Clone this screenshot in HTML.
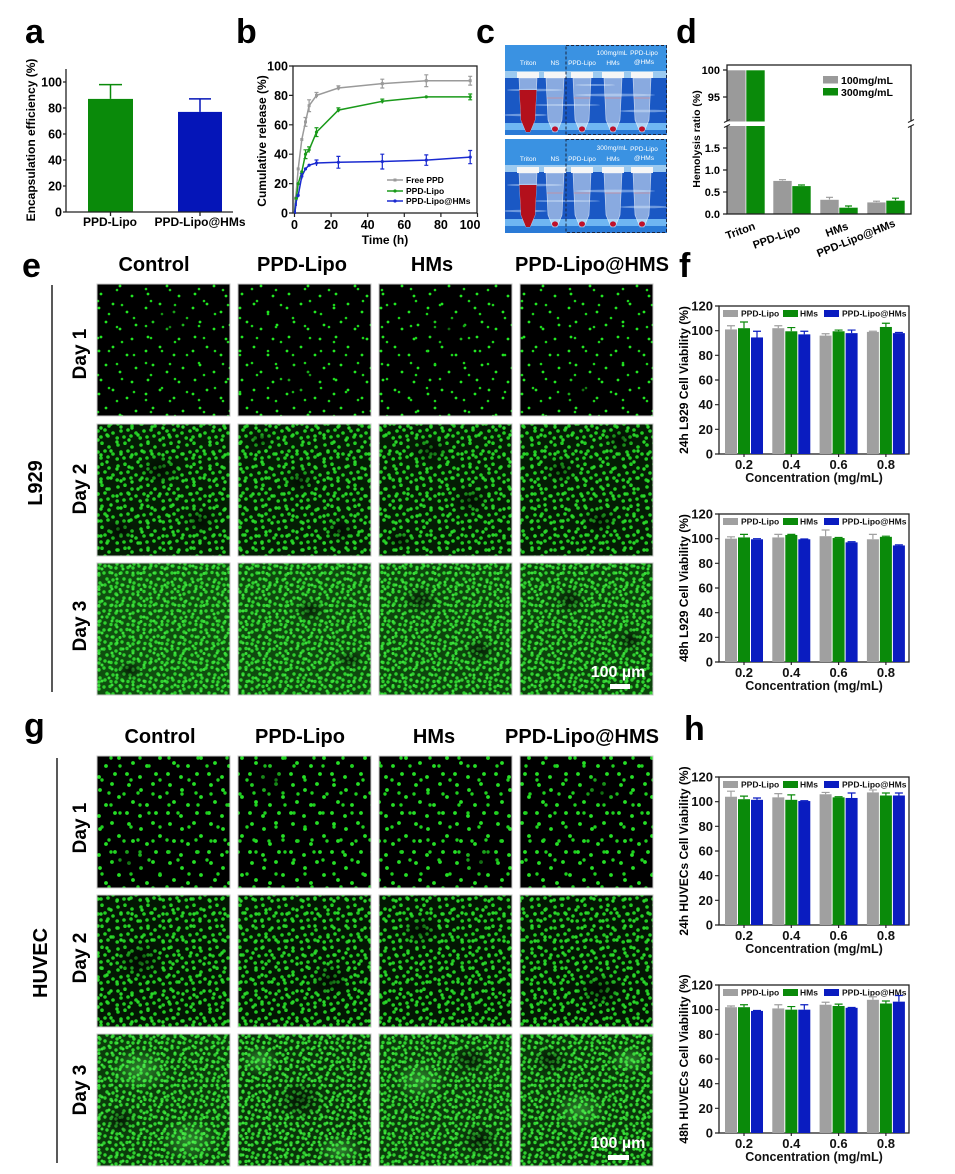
<!DOCTYPE html>
<html><head><meta charset="utf-8"><style>html,body{margin:0;padding:0;background:#fff}svg{display:block}</style></head>
<body>
<svg width="955" height="1174" viewBox="0 0 955 1174" xmlns="http://www.w3.org/2000/svg" xmlns:xlink="http://www.w3.org/1999/xlink" font-family="'Liberation Sans', Arial, sans-serif" font-weight="bold">
<defs>
<pattern id="pA1" width="47" height="43" patternUnits="userSpaceOnUse"><g fill="#22e622"><circle cx="5" cy="7" r="1.4"/><circle cx="19" cy="3" r="1.4"/><circle cx="33" cy="11" r="1.4"/><circle cx="42" cy="24" r="1.4"/><circle cx="12" cy="21" r="1.4"/><circle cx="26" cy="28" r="1.4"/><circle cx="7" cy="36" r="1.4"/><circle cx="38" cy="38" r="1.4"/></g></pattern>
<pattern id="pB1" width="53" height="37" patternUnits="userSpaceOnUse"><g fill="#1bd41b"><circle cx="3" cy="18" r="1.3"/><circle cx="16" cy="9" r="1.3"/><circle cx="28" cy="22" r="1.3"/><circle cx="45" cy="5" r="1.3"/><circle cx="40" cy="30" r="1.3"/><circle cx="11" cy="31" r="1.3"/></g></pattern>
<pattern id="pA2" width="23" height="21" patternUnits="userSpaceOnUse"><g fill="#22cc22"><circle cx="3" cy="4" r="1.8"/><circle cx="10" cy="2.2" r="1.8"/><circle cx="17" cy="6" r="1.8"/><circle cx="21" cy="13" r="1.8"/><circle cx="6" cy="11" r="1.8"/><circle cx="13" cy="10" r="1.8"/><circle cx="2.2" cy="18" r="1.8"/><circle cx="9" cy="17" r="1.8"/><circle cx="16" cy="16" r="1.8"/></g></pattern>
<pattern id="pB2" width="31" height="27" patternUnits="userSpaceOnUse"><g fill="#2bd82b"><circle cx="5" cy="8" r="1.7"/><circle cx="14" cy="3" r="1.7"/><circle cx="24" cy="10" r="1.7"/><circle cx="28" cy="22" r="1.7"/><circle cx="18" cy="19" r="1.7"/><circle cx="8" cy="23" r="1.7"/></g></pattern>
<pattern id="pA3" width="17" height="19" patternUnits="userSpaceOnUse"><g fill="#2fd02f"><circle cx="2" cy="3" r="1.7"/><circle cx="8" cy="2.5" r="1.7"/><circle cx="14" cy="5" r="1.7"/><circle cx="5" cy="9" r="1.7"/><circle cx="11" cy="10" r="1.7"/><circle cx="15" cy="13" r="1.7"/><circle cx="3" cy="15" r="1.7"/><circle cx="9" cy="16.5" r="1.7"/><circle cx="14" cy="17" r="1.7"/></g></pattern>
<pattern id="pB3" width="21" height="16" patternUnits="userSpaceOnUse"><g fill="#3be03b"><circle cx="4" cy="6" r="1.5"/><circle cx="12" cy="3" r="1.5"/><circle cx="18" cy="9" r="1.5"/><circle cx="7" cy="13" r="1.5"/><circle cx="15" cy="13.5" r="1.5"/></g></pattern>
<pattern id="pH1a" width="41" height="39" patternUnits="userSpaceOnUse"><g fill="#25e025"><circle cx="6" cy="5" r="1.9"/><circle cx="18" cy="10" r="1.9"/><circle cx="30" cy="4" r="1.9"/><circle cx="37" cy="17" r="1.9"/><circle cx="10" cy="22" r="1.9"/><circle cx="24" cy="25" r="1.9"/><circle cx="4" cy="33" r="1.9"/><circle cx="33" cy="33" r="1.9"/><circle cx="17" cy="36" r="1.9"/></g></pattern>
<pattern id="pH1b" width="29" height="47" patternUnits="userSpaceOnUse"><g fill="#1ed01e"><circle cx="4" cy="14" r="1.7"/><circle cx="15" cy="28" r="1.7"/><circle cx="24" cy="6" r="1.7"/><circle cx="22" cy="41" r="1.7"/><circle cx="8" cy="42" r="1.7"/></g></pattern>
<radialGradient id="dk"><stop offset="0" stop-color="#000" stop-opacity=".6"/><stop offset="1" stop-color="#000" stop-opacity="0"/></radialGradient>
<radialGradient id="br"><stop offset="0" stop-color="#66ff66" stop-opacity=".4"/><stop offset="1" stop-color="#66ff66" stop-opacity="0"/></radialGradient>

<g id="ax" fill="#111">
<rect x="719" y="-148" width="190" height="148" fill="none" stroke="#222" stroke-width="1.3"/>
<path d="M715,0H719M715,-24.67H719M715,-49.33H719M715,-74H719M715,-98.67H719M715,-123.33H719M715,-148H719M744,0V3M791.3,0V3M838.6,0V3M885.9,0V3" stroke="#222" stroke-width="1.2"/>
<g font-size="13" text-anchor="end"><text x="713" y="4.5">0</text><text x="713" y="-20.2">20</text><text x="713" y="-44.8">40</text><text x="713" y="-69.5">60</text><text x="713" y="-94.2">80</text><text x="713" y="-118.8">100</text><text x="713" y="-143.5">120</text></g>
<g font-size="13" text-anchor="middle"><text x="744" y="15">0.2</text><text x="791.3" y="15">0.4</text><text x="838.6" y="15">0.6</text><text x="885.9" y="15">0.8</text></g>
<text x="814" y="28" font-size="12.5" text-anchor="middle">Concentration (mg/mL)</text>
<rect x="723" y="-144" width="15" height="7" fill="#a0a0a0"/><text x="741" y="-137.5" font-size="8.5">PPD-Lipo</text>
<rect x="783" y="-144" width="15" height="7" fill="#0a8a0a"/><text x="800" y="-137.5" font-size="8.5">HMs</text>
<rect x="824" y="-144" width="15" height="7" fill="#0a1cc0"/><text x="842" y="-137.5" font-size="8.5">PPD-Lipo@HMs</text>
</g>

<g id="tube">
<path d="M-9,0 L9,0 L7,42 L2,54 L-2,54 L-7,42 Z" fill="#e6eef8" fill-opacity=".55" stroke="#fff" stroke-opacity=".7" stroke-width=".6"/>
<rect x="-11" y="-6" width="22" height="6" fill="#f6f6f6"/>
<path d="M-8,20H8" stroke="#e08080" stroke-width=".6"/>
<ellipse cx="0" cy="51" rx="3" ry="2.6" fill="#c0102a"/>
</g>
<path id="redfill" d="M-8.5,12 L8.5,12 L7,42 L2,54 L-2,54 L-7,42 Z" fill="#b3101c"/>
</defs>

<!-- panel letters -->
<g font-size="34" fill="#000">
<text x="25" y="43">a</text><text x="236" y="43">b</text><text x="476" y="43">c</text><text x="676" y="43">d</text>
<text x="22" y="277">e</text><text x="679" y="277">f</text><text x="24" y="737">g</text><text x="684" y="740">h</text>
</g>

<!-- panel a -->
<rect x="88" y="98.9" width="45" height="113.1" fill="#0a8a0a"/>
<rect x="178" y="111.9" width="44" height="100.1" fill="#0515b8"/>
<path d="M110.5,98.9V84.6M99,84.6H122" stroke="#0a8a0a" stroke-width="1.5" fill="none"/>
<path d="M200,111.9V98.9M189,98.9H211" stroke="#0515b8" stroke-width="1.5" fill="none"/>
<path d="M66,69V212H233M63,212H66M63,186H66M63,160H66M63,134H66M63,108H66M63,82H66M110.5,212V216M200,212V216" stroke="#222" stroke-width="1.3" fill="none"/>
<g font-size="12.5" text-anchor="end"><text x="62" y="216.5">0</text><text x="62" y="190.5">20</text><text x="62" y="164.5">40</text><text x="62" y="138.5">60</text><text x="62" y="112.5">80</text><text x="62" y="86.5">100</text></g>
<g font-size="12" text-anchor="middle"><text x="110" y="226">PPD-Lipo</text><text x="200" y="226">PPD-Lipo@HMs</text></g>
<text transform="translate(35,140) rotate(-90)" font-size="12" text-anchor="middle">Encapsulation efficiency (%)</text>

<!-- panel b -->
<rect x="293" y="66" width="184" height="147" fill="none" stroke="#222" stroke-width="1.3"/>
<path d="M289,213H293M289,183.6H293M289,154.2H293M289,124.8H293M289,95.4H293M289,66H293M294.5,213V217M331.1,213V217M367.7,213V217M404.3,213V217M440.9,213V217M477.5,213V217" stroke="#222" stroke-width="1.2"/>
<g font-size="12.5" text-anchor="end"><text x="288" y="217.5">0</text><text x="288" y="188">20</text><text x="288" y="158.7">40</text><text x="288" y="129.3">60</text><text x="288" y="99.9">80</text><text x="288" y="70.5">100</text></g>
<g font-size="12.5" text-anchor="middle"><text x="294.5" y="229">0</text><text x="331.1" y="229">20</text><text x="367.7" y="229">40</text><text x="404.3" y="229">60</text><text x="440.9" y="229">80</text><text x="470" y="229">100</text></g>
<text x="385" y="244" font-size="12" text-anchor="middle">Time (h)</text>
<text transform="translate(266,141) rotate(-90)" font-size="12" text-anchor="middle">Cumulative release (%)</text>
<polyline fill="none" stroke="#9a9a9a" stroke-width="1.5" points="294.5,213 295.4,198.3 296.3,191 298.2,168.9 301.8,139.5 305.5,121.9 309.1,105.7 316.5,95.4 338.4,88.05 382.3,83.6 426.3,80.7 470.2,80.7"/>
<polyline fill="none" stroke="#1a9a1a" stroke-width="1.5" points="294.5,213 295.4,205.65 296.3,198.3 298.2,183.6 301.8,171.8 305.5,154.2 309.1,149.8 316.5,132.15 338.4,110.1 382.3,101.3 426.3,96.9 470.2,96.9"/>
<polyline fill="none" stroke="#1a2ad0" stroke-width="1.5" points="294.5,213 295.4,208.6 296.3,201.2 298.2,195.4 301.8,176.25 305.5,168.9 309.1,165.2 316.5,163 338.4,162.3 382.3,161.55 426.3,160.1 470.2,157.1"/>
<path fill="none" stroke="#9a9a9a" stroke-width="1.2" d="M305.5,117.5V126.3M303.5,117.5H307.5M303.5,126.3H307.5M309.1,99.8V111.6M307.1,99.8H311.1M307.1,111.6H311.1M316.5,92.5V98.3M314.5,92.5H318.5M338.4,85.8V90.3M336.4,85.8H340.4M382.3,79.2V88M380.3,79.2H384.3M380.3,88H384.3M426.3,74.8V86.6M424.3,74.8H428.3M424.3,86.6H428.3M470.2,76.3V85.1M468.2,76.3H472.2M468.2,85.1H472.2"/>
<path fill="none" stroke="#1a9a1a" stroke-width="1.2" d="M305.5,149.8V158.6M303.5,149.8H307.5M303.5,158.6H307.5M309.1,146.9V152.7M307.1,146.9H311.1M316.5,127.75V136.55M314.5,127.75H318.5M314.5,136.55H318.5M338.4,107.9V112.3M336.4,107.9H340.4M382.3,99.1V103.5M380.3,99.1H384.3M470.2,94V99.8M468.2,94H472.2M468.2,99.8H472.2"/>
<path fill="none" stroke="#1a2ad0" stroke-width="1.2" d="M295.4,203V214M296.3,196V206M301.8,173.3V179.3M299.8,173.3H303.8M316.5,160V166M314.5,160H318.5M338.4,156.4V168.2M336.4,156.4H340.4M336.4,168.2H340.4M382.3,154.2V169M380.3,154.2H384.3M380.3,169H384.3M426.3,154.9V165.3M424.3,154.9H428.3M424.3,165.3H428.3M470.2,150.5V163.7M468.2,150.5H472.2M468.2,163.7H472.2"/>
<g fill="#9a9a9a"><rect x="294" y="196.8" width="3" height="3"/><rect x="296.7" y="167.4" width="3" height="3"/><rect x="300.3" y="138" width="3" height="3"/><rect x="304" y="120.4" width="3" height="3"/><rect x="307.6" y="104.2" width="3" height="3"/><rect x="315" y="93.9" width="3" height="3"/><rect x="336.9" y="86.5" width="3" height="3"/><rect x="380.8" y="82.1" width="3" height="3"/><rect x="424.8" y="79.2" width="3" height="3"/><rect x="468.7" y="79.2" width="3" height="3"/></g>
<g fill="#1a9a1a"><circle cx="296.3" cy="198.3" r="1.6"/><circle cx="298.2" cy="183.6" r="1.6"/><circle cx="301.8" cy="171.8" r="1.6"/><circle cx="305.5" cy="154.2" r="1.6"/><circle cx="309.1" cy="149.8" r="1.6"/><circle cx="316.5" cy="132.15" r="1.6"/><circle cx="338.4" cy="110.1" r="1.6"/><circle cx="382.3" cy="101.3" r="1.6"/><circle cx="426.3" cy="96.9" r="1.6"/><circle cx="470.2" cy="96.9" r="1.6"/></g>
<g fill="#1a2ad0"><circle cx="298.2" cy="195.4" r="1.6"/><circle cx="301.8" cy="176.25" r="1.6"/><circle cx="305.5" cy="168.9" r="1.6"/><circle cx="309.1" cy="165.2" r="1.6"/><circle cx="316.5" cy="163" r="1.6"/><circle cx="338.4" cy="162.3" r="1.6"/><circle cx="382.3" cy="161.55" r="1.6"/><circle cx="426.3" cy="160.1" r="1.6"/><circle cx="470.2" cy="157.1" r="1.6"/></g>
<path d="M387,180H403" stroke="#9a9a9a" stroke-width="1.5"/><rect x="393.5" y="178.5" width="3" height="3" fill="#9a9a9a"/>
<path d="M387,191H403" stroke="#1a9a1a" stroke-width="1.5"/><circle cx="395" cy="191" r="1.6" fill="#1a9a1a"/>
<path d="M387,201H403" stroke="#1a2ad0" stroke-width="1.5"/><circle cx="395" cy="201" r="1.6" fill="#1a2ad0"/>
<g font-size="8.5"><text x="406" y="183">Free PPD</text><text x="406" y="194">PPD-Lipo</text><text x="406" y="204">PPD-Lipo@HMs</text></g>

<!-- panel c photos -->
<g transform="translate(505,45)">
<rect width="162" height="90" fill="#2f86da"/>
<rect width="162" height="27" fill="#3a92e2"/>
<rect y="26" width="162" height="7" fill="#9ccaf0"/>
<rect y="33" width="162" height="45" fill="#1a58c4"/>
<g fill="#cfe6ff" opacity=".45"><ellipse cx="30" cy="45" rx="28" ry="1.2"/><ellipse cx="110" cy="50" rx="40" ry="1.4"/><ellipse cx="60" cy="60" rx="35" ry="1"/><ellipse cx="140" cy="66" rx="25" ry="1.3"/><ellipse cx="20" cy="70" rx="22" ry="1.2"/><ellipse cx="90" cy="40" rx="20" ry="1"/></g>
<rect y="78" width="162" height="7" fill="#6fb6f2"/>
<rect y="85" width="162" height="5" fill="#2a7ad6"/>
<use xlink:href="#tube" href="#tube" x="23" y="33"/>
<use xlink:href="#redfill" href="#redfill" x="23" y="33"/>
<use xlink:href="#tube" href="#tube" x="50" y="33"/>
<use xlink:href="#tube" href="#tube" x="77" y="33"/>
<use xlink:href="#tube" href="#tube" x="108" y="33"/>
<use xlink:href="#tube" href="#tube" x="137" y="33"/>
<rect x="61" y="0.5" width="100.5" height="89" fill="none" stroke="#1a2540" stroke-width="1" stroke-dasharray="3 2"/>
<g fill="#fff" font-weight="normal" font-size="6.5" text-anchor="middle"><text x="23" y="20">Triton</text><text x="50" y="20">NS</text><text x="77" y="20">PPD-Lipo</text><text x="108" y="20">HMs</text><text x="107" y="10">100mg/mL</text><text x="139" y="10">PPD-Lipo</text><text x="139" y="19">@HMs</text></g>
</g>
<g transform="translate(505,139)">
<rect width="162" height="94" fill="#2f86da"/>
<rect width="162" height="27" fill="#3a92e2"/>
<rect y="26" width="162" height="7" fill="#9ccaf0"/>
<rect y="33" width="162" height="47" fill="#1a58c4"/>
<g fill="#cfe6ff" opacity=".45"><ellipse cx="30" cy="46" rx="28" ry="1.2"/><ellipse cx="110" cy="52" rx="40" ry="1.4"/><ellipse cx="60" cy="62" rx="35" ry="1"/><ellipse cx="140" cy="68" rx="25" ry="1.3"/><ellipse cx="20" cy="72" rx="22" ry="1.2"/></g>
<rect y="80" width="162" height="7" fill="#6fb6f2"/>
<rect y="87" width="162" height="7" fill="#2a7ad6"/>
<use xlink:href="#tube" href="#tube" x="23" y="34"/>
<use xlink:href="#redfill" href="#redfill" x="23" y="34"/>
<use xlink:href="#tube" href="#tube" x="50" y="34"/>
<use xlink:href="#tube" href="#tube" x="77" y="34"/>
<use xlink:href="#tube" href="#tube" x="108" y="34"/>
<use xlink:href="#tube" href="#tube" x="137" y="34"/>
<rect x="61" y="0.5" width="100.5" height="93" fill="none" stroke="#1a2540" stroke-width="1" stroke-dasharray="3 2"/>
<g fill="#fff" font-weight="normal" font-size="6.5" text-anchor="middle"><text x="23" y="22">Triton</text><text x="50" y="22">NS</text><text x="77" y="22">PPD-Lipo</text><text x="108" y="22">HMs</text><text x="107" y="11">300mg/mL</text><text x="139" y="12">PPD-Lipo</text><text x="139" y="21">@HMs</text></g>
</g>

<!-- panel d -->
<g stroke="#fff" stroke-width=".6">
<rect x="727" y="70" width="19" height="144" fill="#9a9a9a"/>
<rect x="746" y="70" width="19" height="144" fill="#0a8a0a"/>
<rect x="773" y="180.6" width="19" height="33.4" fill="#9a9a9a"/>
<rect x="792" y="185.8" width="19" height="28.2" fill="#0a8a0a"/>
<rect x="820" y="199.5" width="19" height="14.5" fill="#9a9a9a"/>
<rect x="839" y="207.4" width="19" height="6.6" fill="#0a8a0a"/>
<rect x="867" y="202.1" width="19" height="11.9" fill="#9a9a9a"/>
<rect x="886" y="200.4" width="19" height="13.6" fill="#0a8a0a"/>
</g>
<path d="M782.5,180.6V179.7M779,179.7H786M876.5,202.1V201.2M873,201.2H880M829.5,199.5V197.3M826,197.3H833" stroke="#9a9a9a" stroke-width="1.2"/>
<path d="M801.5,185.8V185M798,185H805M848.5,207.4V206M845,206H852M895.5,200.4V198.2M892,198.2H899" stroke="#0a8a0a" stroke-width="1.2"/>
<rect x="727" y="65" width="184" height="149" fill="none" stroke="#222" stroke-width="1.3"/>
<path d="M723,70H727M723,97H727M723,148H727M723,170H727M723,192H727M723,214H727" stroke="#222" stroke-width="1.2"/>
<rect x="720" y="121.5" width="196" height="4.5" fill="#fff"/>
<path d="M724,122.5L730,119.5M724,127.5L730,124.5M908,122.5L914,119.5M908,127.5L914,124.5" stroke="#222" stroke-width="1"/>
<g font-size="11" text-anchor="end"><text x="720" y="74">100</text><text x="720" y="101">95</text><text x="720" y="152">1.5</text><text x="720" y="174">1.0</text><text x="720" y="196">0.5</text><text x="720" y="218">0.0</text></g>
<rect x="823" y="76" width="15" height="7.5" fill="#9a9a9a"/><rect x="823" y="88" width="15" height="7.5" fill="#0a8a0a"/>
<g font-size="10.5"><text x="841" y="84">100mg/mL</text><text x="841" y="96">300mg/mL</text></g>
<text transform="translate(700,139) rotate(-90)" font-size="10.5" text-anchor="middle">Hemolysis ratio (%)</text>
<g font-size="11" text-anchor="end">
<text transform="translate(756,229) rotate(-20)">Triton</text>
<text transform="translate(801,232) rotate(-20)">PPD-Lipo</text>
<text transform="translate(849,229) rotate(-20)">HMs</text>
<text transform="translate(896,226) rotate(-22)">PPD-Lipo@HMs</text>
</g>

<!-- e headers -->
<g font-size="20" text-anchor="middle"><text x="154" y="271">Control</text><text x="302" y="271">PPD-Lipo</text><text x="432" y="271">HMs</text><text x="592" y="271">PPD-Lipo@HMS</text></g>
<path d="M52,285V692" stroke="#222" stroke-width="1.5"/>
<text transform="translate(42,483) rotate(-90)" font-size="20" text-anchor="middle">L929</text>
<g font-size="19" text-anchor="middle"><text transform="translate(86,354) rotate(-90)">Day 1</text><text transform="translate(86,489) rotate(-90)">Day 2</text><text transform="translate(86,626) rotate(-90)">Day 3</text></g>

<!-- e tiles row 1 -->
<g>
<rect x="97" y="284" width="133" height="132" fill="#000"/><rect x="97" y="284" width="133" height="132" fill="url(#pA1)"/><rect x="97" y="284" width="133" height="132" fill="url(#pB1)"/>
<rect x="238" y="284" width="133" height="132" fill="#000"/><rect x="238" y="284" width="133" height="132" fill="url(#pA1)"/><rect x="238" y="284" width="133" height="132" fill="url(#pB1)"/>
<rect x="379" y="284" width="133" height="132" fill="#000"/><rect x="379" y="284" width="133" height="132" fill="url(#pA1)"/><rect x="379" y="284" width="133" height="132" fill="url(#pB1)"/>
<rect x="520" y="284" width="133" height="132" fill="#000"/><rect x="520" y="284" width="133" height="132" fill="url(#pA1)"/><rect x="520" y="284" width="133" height="132" fill="url(#pB1)"/>
<ellipse cx="170" cy="320" rx="22" ry="18" fill="url(#dk)"/><ellipse cx="300" cy="380" rx="22" ry="18" fill="url(#dk)"/><ellipse cx="450" cy="330" rx="24" ry="18" fill="url(#dk)"/><ellipse cx="580" cy="390" rx="22" ry="16" fill="url(#dk)"/>
</g>
<!-- e row 2 -->
<g>
<rect x="97" y="424" width="133" height="132" fill="#041c04"/><rect x="97" y="424" width="133" height="132" fill="url(#pA2)"/><rect x="97" y="424" width="133" height="132" fill="url(#pB2)"/>
<rect x="238" y="424" width="133" height="132" fill="#041c04"/><rect x="238" y="424" width="133" height="132" fill="url(#pA2)"/><rect x="238" y="424" width="133" height="132" fill="url(#pB2)"/>
<rect x="379" y="424" width="133" height="132" fill="#041c04"/><rect x="379" y="424" width="133" height="132" fill="url(#pA2)"/><rect x="379" y="424" width="133" height="132" fill="url(#pB2)"/>
<rect x="520" y="424" width="133" height="132" fill="#041c04"/><rect x="520" y="424" width="133" height="132" fill="url(#pA2)"/><rect x="520" y="424" width="133" height="132" fill="url(#pB2)"/>
<ellipse cx="160" cy="470" rx="22" ry="16" fill="url(#dk)"/><ellipse cx="200" cy="520" rx="18" ry="14" fill="url(#dk)"/><ellipse cx="120" cy="530" rx="15" ry="12" fill="url(#dk)"/>
<ellipse cx="300" cy="480" rx="16" ry="14" fill="url(#dk)"/><ellipse cx="260" cy="440" rx="14" ry="10" fill="url(#dk)"/><ellipse cx="340" cy="530" rx="16" ry="12" fill="url(#dk)"/>
<ellipse cx="430" cy="450" rx="20" ry="14" fill="url(#dk)"/><ellipse cx="470" cy="500" rx="18" ry="16" fill="url(#dk)"/><ellipse cx="400" cy="540" rx="14" ry="10" fill="url(#dk)"/>
<ellipse cx="560" cy="470" rx="16" ry="14" fill="url(#dk)"/><ellipse cx="620" cy="440" rx="16" ry="12" fill="url(#dk)"/><ellipse cx="600" cy="520" rx="18" ry="14" fill="url(#dk)"/>
</g>
<!-- e row 3 -->
<g>
<rect x="97" y="563" width="133" height="132" fill="#0f4f0f"/><rect x="97" y="563" width="133" height="132" fill="url(#pA3)"/><rect x="97" y="563" width="133" height="132" fill="url(#pB3)"/>
<rect x="238" y="563" width="133" height="132" fill="#0e4a0e"/><rect x="238" y="563" width="133" height="132" fill="url(#pA3)"/><rect x="238" y="563" width="133" height="132" fill="url(#pB3)"/>
<rect x="379" y="563" width="133" height="132" fill="#0d460d"/><rect x="379" y="563" width="133" height="132" fill="url(#pA3)"/><rect x="379" y="563" width="133" height="132" fill="url(#pB3)"/>
<rect x="520" y="563" width="133" height="132" fill="#0c440c"/><rect x="520" y="563" width="133" height="132" fill="url(#pA3)"/><rect x="520" y="563" width="133" height="132" fill="url(#pB3)"/>
<ellipse cx="130" cy="670" rx="14" ry="10" fill="url(#dk)"/><ellipse cx="310" cy="610" rx="16" ry="12" fill="url(#dk)"/><ellipse cx="350" cy="660" rx="14" ry="10" fill="url(#dk)"/>
<ellipse cx="420" cy="600" rx="18" ry="14" fill="url(#dk)"/><ellipse cx="480" cy="650" rx="16" ry="12" fill="url(#dk)"/><ellipse cx="570" cy="600" rx="16" ry="14" fill="url(#dk)"/><ellipse cx="630" cy="640" rx="14" ry="12" fill="url(#dk)"/>
</g>
<g fill="none" stroke="#c8c8c8" stroke-width="1">
<rect x="97" y="284" width="133" height="132"/><rect x="238" y="284" width="133" height="132"/><rect x="379" y="284" width="133" height="132"/><rect x="520" y="284" width="133" height="132"/>
<rect x="97" y="424" width="133" height="132"/><rect x="238" y="424" width="133" height="132"/><rect x="379" y="424" width="133" height="132"/><rect x="520" y="424" width="133" height="132"/>
<rect x="97" y="563" width="133" height="132"/><rect x="238" y="563" width="133" height="132"/><rect x="379" y="563" width="133" height="132"/><rect x="520" y="563" width="133" height="132"/>
</g>
<text x="618" y="677" font-size="16" fill="#fff" text-anchor="middle">100 µm</text>
<rect x="610" y="684" width="20" height="5" fill="#fff"/>

<!-- g headers -->
<g font-size="20" text-anchor="middle"><text x="160" y="743">Control</text><text x="300" y="743">PPD-Lipo</text><text x="434" y="743">HMs</text><text x="582" y="743">PPD-Lipo@HMS</text></g>
<path d="M57,758V1163" stroke="#222" stroke-width="1.5"/>
<text transform="translate(47,963) rotate(-90)" font-size="20" text-anchor="middle">HUVEC</text>
<g font-size="19" text-anchor="middle"><text transform="translate(86,828) rotate(-90)">Day 1</text><text transform="translate(86,958) rotate(-90)">Day 2</text><text transform="translate(86,1090) rotate(-90)">Day 3</text></g>

<!-- g row 1 -->
<g>
<rect x="97" y="756" width="133" height="132" fill="#000"/><rect x="97" y="756" width="133" height="132" fill="url(#pH1a)"/><rect x="97" y="756" width="133" height="132" fill="url(#pH1b)"/>
<rect x="238" y="756" width="133" height="132" fill="#000"/><rect x="238" y="756" width="133" height="132" fill="url(#pH1a)"/><rect x="238" y="756" width="133" height="132" fill="url(#pH1b)"/>
<rect x="379" y="756" width="133" height="132" fill="#000"/><rect x="379" y="756" width="133" height="132" fill="url(#pH1a)"/><rect x="379" y="756" width="133" height="132" fill="url(#pH1b)"/>
<rect x="520" y="756" width="133" height="132" fill="#000"/><rect x="520" y="756" width="133" height="132" fill="url(#pH1a)"/><rect x="520" y="756" width="133" height="132" fill="url(#pH1b)"/>
<ellipse cx="130" cy="860" rx="20" ry="16" fill="url(#dk)"/><ellipse cx="270" cy="780" rx="22" ry="18" fill="url(#dk)"/><ellipse cx="480" cy="860" rx="20" ry="16" fill="url(#dk)"/><ellipse cx="600" cy="790" rx="22" ry="16" fill="url(#dk)"/>
</g>
<!-- g row 2 -->
<g>
<rect x="97" y="895" width="133" height="132" fill="#031603"/><rect x="97" y="895" width="133" height="132" fill="url(#pA2)"/><rect x="97" y="895" width="133" height="132" fill="url(#pB2)"/>
<rect x="238" y="895" width="133" height="132" fill="#031603"/><rect x="238" y="895" width="133" height="132" fill="url(#pA2)"/><rect x="238" y="895" width="133" height="132" fill="url(#pB2)"/>
<rect x="379" y="895" width="133" height="132" fill="#031603"/><rect x="379" y="895" width="133" height="132" fill="url(#pA2)"/><rect x="379" y="895" width="133" height="132" fill="url(#pB2)"/>
<rect x="520" y="895" width="133" height="132" fill="#031603"/><rect x="520" y="895" width="133" height="132" fill="url(#pA2)"/><rect x="520" y="895" width="133" height="132" fill="url(#pB2)"/>
<ellipse cx="140" cy="960" rx="24" ry="20" fill="url(#dk)"/><ellipse cx="330" cy="980" rx="20" ry="18" fill="url(#dk)"/><ellipse cx="420" cy="930" rx="20" ry="16" fill="url(#dk)"/><ellipse cx="600" cy="990" rx="24" ry="18" fill="url(#dk)"/>
</g>
<!-- g row 3 -->
<g>
<rect x="97" y="1034" width="133" height="132" fill="#0b3c0b"/><rect x="97" y="1034" width="133" height="132" fill="url(#pA3)"/><rect x="97" y="1034" width="133" height="132" fill="url(#pB3)"/>
<rect x="238" y="1034" width="133" height="132" fill="#093409"/><rect x="238" y="1034" width="133" height="132" fill="url(#pA3)"/><rect x="238" y="1034" width="133" height="132" fill="url(#pB3)"/>
<rect x="379" y="1034" width="133" height="132" fill="#0b3c0b"/><rect x="379" y="1034" width="133" height="132" fill="url(#pA3)"/><rect x="379" y="1034" width="133" height="132" fill="url(#pB3)"/>
<rect x="520" y="1034" width="133" height="132" fill="#0a380a"/><rect x="520" y="1034" width="133" height="132" fill="url(#pA3)"/><rect x="520" y="1034" width="133" height="132" fill="url(#pB3)"/>
<ellipse cx="140" cy="1070" rx="30" ry="22" fill="url(#br)"/><ellipse cx="190" cy="1140" rx="30" ry="22" fill="url(#br)"/><ellipse cx="120" cy="1120" rx="16" ry="14" fill="url(#dk)"/>
<ellipse cx="260" cy="1060" rx="20" ry="16" fill="url(#br)"/><ellipse cx="340" cy="1150" rx="24" ry="16" fill="url(#br)"/><ellipse cx="300" cy="1100" rx="24" ry="20" fill="url(#dk)"/>
<ellipse cx="420" cy="1080" rx="26" ry="20" fill="url(#br)"/><ellipse cx="480" cy="1140" rx="20" ry="16" fill="url(#dk)"/><ellipse cx="470" cy="1060" rx="20" ry="14" fill="url(#dk)"/>
<ellipse cx="580" cy="1110" rx="26" ry="20" fill="url(#br)"/><ellipse cx="630" cy="1060" rx="20" ry="14" fill="url(#br)"/><ellipse cx="550" cy="1060" rx="18" ry="14" fill="url(#dk)"/>
</g>
<g fill="none" stroke="#c8c8c8" stroke-width="1">
<rect x="97" y="756" width="133" height="132"/><rect x="238" y="756" width="133" height="132"/><rect x="379" y="756" width="133" height="132"/><rect x="520" y="756" width="133" height="132"/>
<rect x="97" y="895" width="133" height="132"/><rect x="238" y="895" width="133" height="132"/><rect x="379" y="895" width="133" height="132"/><rect x="520" y="895" width="133" height="132"/>
<rect x="97" y="1034" width="133" height="132"/><rect x="238" y="1034" width="133" height="132"/><rect x="379" y="1034" width="133" height="132"/><rect x="520" y="1034" width="133" height="132"/>
</g>
<text x="618" y="1148" font-size="16" fill="#fff" text-anchor="middle">100 µm</text>
<rect x="608" y="1155" width="21" height="5" fill="#fff"/>

<!-- f/h charts -->
<use xlink:href="#ax" href="#ax" y="454"/>
<use xlink:href="#ax" href="#ax" y="662"/>
<use xlink:href="#ax" href="#ax" y="925"/>
<use xlink:href="#ax" href="#ax" y="1133"/>
<g font-size="12" text-anchor="middle">
<text transform="translate(688,380) rotate(-90)">24h L929 Cell Viability (%)</text>
<text transform="translate(688,588) rotate(-90)">48h L929 Cell Viability (%)</text>
<text transform="translate(688,851) rotate(-90)">24h HUVECs Cell Viability (%)</text>
<text transform="translate(688,1059) rotate(-90)">48h HUVECs Cell Viability (%)</text>
</g>

<!-- f1 bars -->
<g transform="translate(0,454) scale(1,-1.23333)">
<g fill="#a0a0a0"><rect x="725" width="12" height="101"/><rect x="772.3" width="12" height="102"/><rect x="819.6" width="12" height="96"/><rect x="866.9" width="12" height="99"/></g>
<g fill="#0a8a0a"><rect x="738" width="12" height="102"/><rect x="785.3" width="12" height="99.5"/><rect x="832.6" width="12" height="99.5"/><rect x="879.9" width="12" height="103"/></g>
<g fill="#0a1cc0"><rect x="751" width="12" height="94.5"/><rect x="798.3" width="12" height="97"/><rect x="845.6" width="12" height="98"/><rect x="892.9" width="12" height="98"/></g>
<path vector-effect="non-scaling-stroke" stroke="#a0a0a0" stroke-width="1.2" fill="none" d="M731,101V104M727,104H735M778.3,102V104M774.3,104H782.3M825.6,96V97.5M821.6,97.5H829.6M872.9,99V99.5M868.9,99.5H876.9"/>
<path vector-effect="non-scaling-stroke" stroke="#0a8a0a" stroke-width="1.2" fill="none" d="M744,102V107M740,107H748M791.3,99.5V102.5M787.3,102.5H795.3M838.6,99.5V100.5M834.6,100.5H842.6M885.9,103V106M881.9,106H889.9"/>
<path vector-effect="non-scaling-stroke" stroke="#0a1cc0" stroke-width="1.2" fill="none" d="M757,94.5V99.5M753,99.5H761M804.3,97V99.5M800.3,99.5H808.3M851.6,98V100.5M847.6,100.5H855.6M898.9,98V98.5M894.9,98.5H902.9"/>
</g>
<!-- f2 bars -->
<g transform="translate(0,662) scale(1,-1.23333)">
<g fill="#a0a0a0"><rect x="725" width="12" height="100"/><rect x="772.3" width="12" height="101"/><rect x="819.6" width="12" height="102"/><rect x="866.9" width="12" height="99.5"/></g>
<g fill="#0a8a0a"><rect x="738" width="12" height="101"/><rect x="785.3" width="12" height="103"/><rect x="832.6" width="12" height="100.5"/><rect x="879.9" width="12" height="101.5"/></g>
<g fill="#0a1cc0"><rect x="751" width="12" height="99.5"/><rect x="798.3" width="12" height="99.5"/><rect x="845.6" width="12" height="97"/><rect x="892.9" width="12" height="94.5"/></g>
<path vector-effect="non-scaling-stroke" stroke="#a0a0a0" stroke-width="1.2" fill="none" d="M731,100V101.5M727,101.5H735M778.3,101V103.5M774.3,103.5H782.3M825.6,102V107M821.6,107H829.6M872.9,99.5V103.5M868.9,103.5H876.9"/>
<path vector-effect="non-scaling-stroke" stroke="#0a8a0a" stroke-width="1.2" fill="none" d="M744,101V103.5M740,103.5H748M791.3,103V103.5M787.3,103.5H795.3M838.6,100.5V101M834.6,101H842.6M885.9,101.5V102M881.9,102H889.9"/>
<path vector-effect="non-scaling-stroke" stroke="#0a1cc0" stroke-width="1.2" fill="none" d="M757,99.5V100M753,100H761M804.3,99.5V99.8M800.3,99.8H808.3M851.6,97V97.5M847.6,97.5H855.6M898.9,94.5V95M894.9,95H902.9"/>
</g>
<!-- h1 bars -->
<g transform="translate(0,925) scale(1,-1.23333)">
<g fill="#a0a0a0"><rect x="725" width="12" height="104"/><rect x="772.3" width="12" height="103.5"/><rect x="819.6" width="12" height="106"/><rect x="866.9" width="12" height="107.5"/></g>
<g fill="#0a8a0a"><rect x="738" width="12" height="102"/><rect x="785.3" width="12" height="101.5"/><rect x="832.6" width="12" height="103.5"/><rect x="879.9" width="12" height="105"/></g>
<g fill="#0a1cc0"><rect x="751" width="12" height="101.5"/><rect x="798.3" width="12" height="100.5"/><rect x="845.6" width="12" height="103"/><rect x="892.9" width="12" height="105"/></g>
<path vector-effect="non-scaling-stroke" stroke="#a0a0a0" stroke-width="1.2" fill="none" d="M731,104V108.5M727,108.5H735M778.3,103.5V106.5M774.3,106.5H782.3M825.6,106V107.5M821.6,107.5H829.6M872.9,107.5V109.5M868.9,109.5H876.9"/>
<path vector-effect="non-scaling-stroke" stroke="#0a8a0a" stroke-width="1.2" fill="none" d="M744,102V104.5M740,104.5H748M791.3,101.5V105.5M787.3,105.5H795.3M838.6,103.5V104M834.6,104H842.6M885.9,105V107M881.9,107H889.9"/>
<path vector-effect="non-scaling-stroke" stroke="#0a1cc0" stroke-width="1.2" fill="none" d="M757,101.5V103M753,103H761M804.3,100.5V100.8M800.3,100.8H808.3M851.6,103V107M847.6,107H855.6M898.9,105V107M894.9,107H902.9"/>
</g>
<!-- h2 bars -->
<g transform="translate(0,1133) scale(1,-1.23333)">
<g fill="#a0a0a0"><rect x="725" width="12" height="102"/><rect x="772.3" width="12" height="101"/><rect x="819.6" width="12" height="104"/><rect x="866.9" width="12" height="108"/></g>
<g fill="#0a8a0a"><rect x="738" width="12" height="102"/><rect x="785.3" width="12" height="100"/><rect x="832.6" width="12" height="103"/><rect x="879.9" width="12" height="105"/></g>
<g fill="#0a1cc0"><rect x="751" width="12" height="99"/><rect x="798.3" width="12" height="100"/><rect x="845.6" width="12" height="101.5"/><rect x="892.9" width="12" height="106.5"/></g>
<path vector-effect="non-scaling-stroke" stroke="#a0a0a0" stroke-width="1.2" fill="none" d="M731,102V103M727,103H735M778.3,101V104M774.3,104H782.3M825.6,104V106M821.6,106H829.6M872.9,108V110.5M868.9,110.5H876.9"/>
<path vector-effect="non-scaling-stroke" stroke="#0a8a0a" stroke-width="1.2" fill="none" d="M744,102V104M740,104H748M791.3,100V102.5M787.3,102.5H795.3M838.6,103V104.5M834.6,104.5H842.6M885.9,105V107M881.9,107H889.9"/>
<path vector-effect="non-scaling-stroke" stroke="#0a1cc0" stroke-width="1.2" fill="none" d="M757,99V99.3M753,99.3H761M804.3,100V104M800.3,104H808.3M851.6,101.5V101.8M847.6,101.8H855.6M898.9,106.5V111.5M894.9,111.5H902.9"/>
</g>
</svg>
</body></html>
